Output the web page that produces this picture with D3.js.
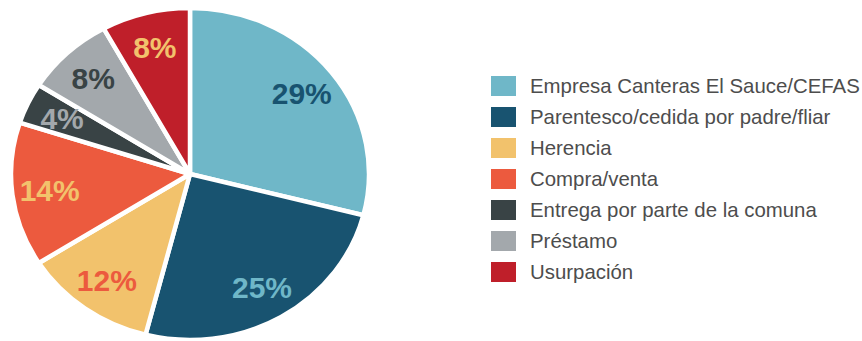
<!DOCTYPE html>
<html><head><meta charset="utf-8">
<script src="https://cdn.jsdelivr.net/npm/d3@7"></script>
<style>body{margin:0;background:#fff}svg{display:block}</style>
</head><body>
<svg id="c" width="862" height="341"></svg>
<script>
const categories = ["Empresa Canteras El Sauce/CEFAS","Parentesco/cedida por padre/fliar","Herencia","Compra/venta","Entrega por parte de la comuna","Préstamo","Usurpación"];
const values = [29, 25, 12, 14, 4, 8, 8];
const labels = ["29%","25%","12%","14%","4%","8%","8%"];
const colors = ["#6fb7c8","#185370","#f2c26c","#ec5a3e","#394345","#a3a8ac","#bf1f2a"];
const labelColors = ["#185370","#6fb7c8","#ec5a3e","#f2c26c","#a3a8ac","#394345","#f2c26c"];

const svg = d3.select("#c");
const cx = 190, cy = 174, ry = 166, rx = 179;
const sx = rx / ry;
const g = svg.append("g").attr("transform", `translate(${cx},${cy}) scale(${sx},1)`);
const pie = d3.pie().sort(null).value(d => d)(values);
const arc = d3.arc().innerRadius(0).outerRadius(ry);
g.selectAll("path").data(pie).join("path")
  .attr("d", arc)
  .attr("fill", (d,i) => colors[i])
  .attr("stroke", "#fff").attr("stroke-width", 4.5)
  .attr("stroke-linejoin", "round")
  .attr("vector-effect", "non-scaling-stroke");

const lr = ry * 0.79;
const labelArc = d3.arc().innerRadius(lr).outerRadius(lr);
const lg = svg.append("g").attr("transform", `translate(${cx},${cy})`);
lg.selectAll("text").data(pie).join("text")
  .attr("x", d => labelArc.centroid(d)[0] * sx)
  .attr("y", d => labelArc.centroid(d)[1])
  .attr("dy", "0.36em")
  .attr("text-anchor", "middle")
  .attr("font-family", "Liberation Sans, Arial, sans-serif")
  .attr("font-weight", "bold")
  .attr("font-size", 30)
  .attr("fill", (d,i) => labelColors[i])
  .text((d,i) => labels[i]);

const leg = svg.append("g").attr("transform", "translate(491,76)");
const row = d3.scaleBand().domain(categories).range([0, 217]);
const items = leg.selectAll("g").data(categories).join("g")
  .attr("transform", d => `translate(0,${row(d)})`);
items.append("rect").attr("width", 25).attr("height", 20)
  .attr("fill", (d,i) => colors[i]);
items.append("text").attr("x", 39).attr("y", 10).attr("dy", "0.36em")
  .attr("font-family", "Liberation Sans, Arial, sans-serif")
  .attr("font-size", 20.4).attr("fill", "#4d4d4d")
  .text(d => d);
</script>
</body></html>
